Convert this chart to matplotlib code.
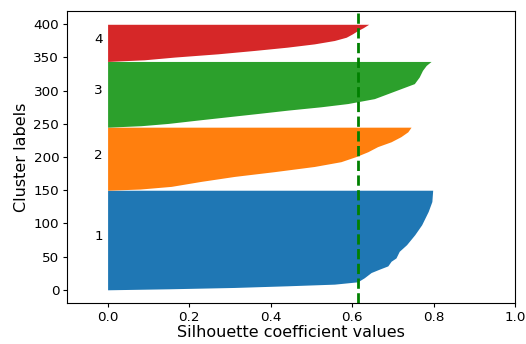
"""Silhouette plot of four clusters."""

import matplotlib
matplotlib.use("Agg")
import matplotlib.pyplot as plt

# cluster sizes (samples per cluster, stacked bottom to top)
cluster_names = ["1", "2", "3", "4"]
cluster_sizes = [150, 95, 99, 56]
cluster_colors = ["tab:blue", "tab:orange", "tab:green", "tab:red"]

# sorted silhouette profile of each cluster:
# position inside the cluster -> silhouette value
c1_pos = [0, 1.5, 3.5, 6, 8.5, 12, 18, 26, 31, 36, 43, 48, 58, 68, 83, 98, 118, 133, 150]
c1_val = [0.0, 0.15, 0.31, 0.44, 0.556, 0.613, 0.629, 0.646, 0.666, 0.687,
          0.695, 0.707, 0.715, 0.733, 0.753, 0.77, 0.786, 0.795, 0.797]

c2_pos = [0, 1.8, 5.8, 13.3, 20.8, 28, 35.8, 43, 50.7, 58, 65.7, 73, 80.7, 88, 95]
c2_val = [0.0, 0.08, 0.156, 0.229, 0.311, 0.409, 0.507, 0.572, 0.609, 0.638,
          0.662, 0.695, 0.719, 0.736, 0.744]

c3_pos = [0, 2.2, 5.6, 10.7, 15.7, 20.6, 25.7, 30.7, 35.6, 43, 50.6, 58, 65.6,
          75.6, 85.6, 93, 99]
c3_val = [0.0, 0.082, 0.148, 0.221, 0.295, 0.368, 0.442, 0.523, 0.589, 0.654,
          0.687, 0.719, 0.752, 0.764, 0.772, 0.781, 0.793]

c4_pos = [0, 2.5, 6.6, 11.5, 16.6, 21.5, 26.5, 31.6, 36.5, 41.5, 46.5, 51, 56]
c4_val = [0.0, 0.09, 0.164, 0.27, 0.36, 0.44, 0.507, 0.556, 0.585, 0.60,
          0.613, 0.627, 0.64]

silhouette_avg = 0.614

profiles = [(c1_pos, c1_val), (c2_pos, c2_val), (c3_pos, c3_val), (c4_pos, c4_val)]

fig, ax = plt.subplots(figsize=(5.26, 3.44), dpi=100)
fig.subplots_adjust(left=0.127, right=0.980, top=0.968, bottom=0.119)

y_lower = 0
for name, size, color, (pos, val) in zip(cluster_names, cluster_sizes,
                                          cluster_colors, profiles):
    ys = [y_lower + p for p in pos]
    ax.fill_betweenx(ys, 0, val, facecolor=color, edgecolor=color, linewidth=0)
    ax.text(-0.022, y_lower + 0.5 * size, name, ha="center", fontsize=9.7)
    y_lower += size

ax.axvline(x=silhouette_avg, color="green", linestyle="--", linewidth=2)

ax.set_xlim(-0.1, 1.0)
ax.set_ylim(-20, 420)
ax.set_xticks([0.0, 0.2, 0.4, 0.6, 0.8, 1.0])
ax.set_yticks(range(0, 401, 50))
ax.tick_params(labelsize=9.7, length=3, pad=2.5)
ax.set_xlabel("Silhouette coefficient values", fontsize=11.5, labelpad=1)
ax.set_ylabel("Cluster labels", fontsize=11.5, labelpad=3)

fig.savefig("out.png")
